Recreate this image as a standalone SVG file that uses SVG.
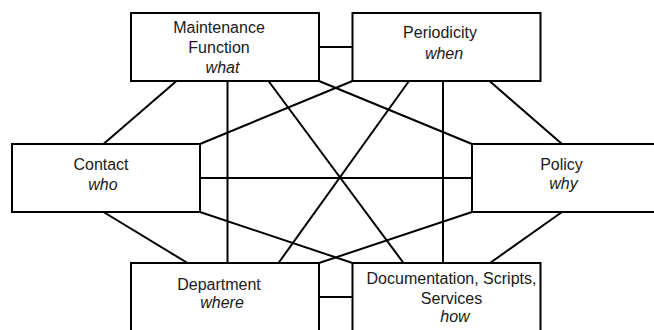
<svg xmlns="http://www.w3.org/2000/svg" width="654" height="330" viewBox="0 0 654 330">
<style>
.box{fill:#fff;stroke:#000;stroke-width:2}
.c line{stroke:#000;stroke-width:2}
text{font-family:"Liberation Sans",Arial,sans-serif;font-size:16px;fill:#1a1a1a;text-anchor:middle}
.i{font-style:italic}
</style>
<rect width="654" height="330" fill="#fff"/>
<g class="c" id="connectors">
<line x1="319" y1="47" x2="352.5" y2="47"/>
<line x1="319" y1="297" x2="352.5" y2="297"/>
<line x1="200" y1="178" x2="472" y2="178"/>
<line x1="227.5" y1="81" x2="227.5" y2="263"/>
<line x1="443" y1="81" x2="443" y2="263"/>
<line x1="176.5" y1="81" x2="103.5" y2="144"/>
<line x1="103.5" y1="212" x2="187.5" y2="263"/>
<line x1="409" y1="81" x2="278.5" y2="263"/>
<line x1="268.5" y1="81" x2="403.5" y2="263"/>
<line x1="489.5" y1="81" x2="562" y2="144"/>
<line x1="562" y1="212" x2="490" y2="263"/>
<line x1="319" y1="81" x2="472" y2="144"/>
<line x1="352.5" y1="81" x2="200" y2="144"/>
<line x1="200" y1="212" x2="352.5" y2="263"/>
<line x1="472" y1="212" x2="319" y2="263"/>
</g>
<g id="maintenance">
<rect class="box" x="131" y="13" width="188" height="68"/>
<text x="219" y="33">Maintenance</text>
<text x="219" y="53">Function</text>
<text class="i" x="222.5" y="73">what</text>
</g>
<g id="periodicity">
<rect class="box" x="352.5" y="13" width="188" height="68"/>
<text x="440" y="38">Periodicity</text>
<text class="i" x="444" y="59">when</text>
</g>
<g id="contact">
<rect class="box" x="12" y="144" width="188" height="68"/>
<text x="101" y="170">Contact</text>
<text class="i" x="103" y="190">who</text>
</g>
<g id="policy">
<rect class="box" x="472" y="144" width="188" height="68"/>
<text x="561.5" y="170">Policy</text>
<text class="i" x="563.5" y="189">why</text>
</g>
<g id="department">
<rect class="box" x="131" y="263" width="188" height="68"/>
<text x="219" y="290">Department</text>
<text class="i" x="222" y="308">where</text>
</g>
<g id="documentation">
<rect class="box" x="352.5" y="263" width="188" height="68"/>
<text x="451.5" y="283.5">Documentation, Scripts,</text>
<text x="451.5" y="303.5">Services</text>
<text class="i" x="455" y="322">how</text>
</g>
</svg>
